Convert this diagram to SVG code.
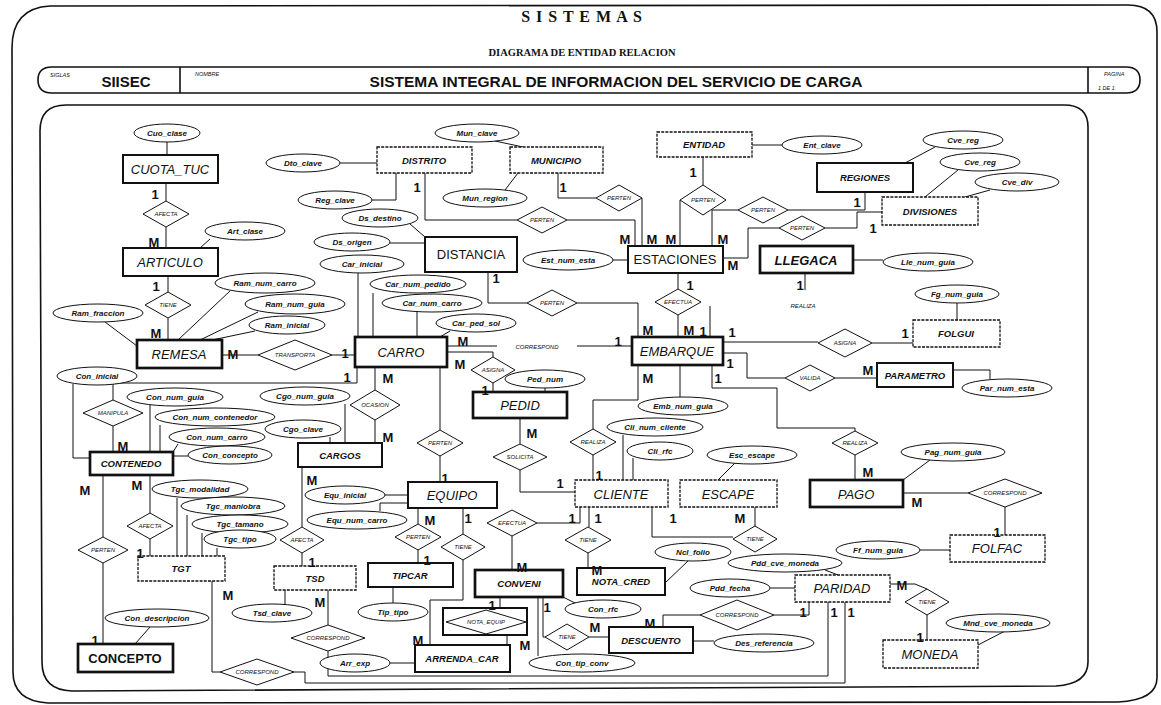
<svg xmlns="http://www.w3.org/2000/svg" width="1161" height="705" viewBox="0 0 1161 705">
<style>
.e{fill:#fff;stroke:#111;stroke-width:2}
.eb{fill:#fff;stroke:#111;stroke-width:2.7}
.et{fill:#fff;stroke:#111;stroke-width:1.3;stroke-dasharray:3 1.2}
.r{fill:#fff;stroke:#111;stroke-width:1}
.a{fill:#fff;stroke:#111;stroke-width:1}
.fr{fill:none;stroke:#111;stroke-width:1.6}
#connectors path{fill:none;stroke:#111;stroke-width:1}
text{font-family:"Liberation Sans",Arial,sans-serif;fill:#111}
.n{font-size:13px;font-style:italic;text-anchor:middle}
.nr{font-size:13px;text-anchor:middle}
.ns{font-size:9.5px;font-style:italic;font-weight:bold;text-anchor:middle}
.at{font-size:8px;font-style:italic;font-weight:bold;text-anchor:middle}
.rt{font-size:6px;font-style:italic;text-anchor:middle}
.k{font-size:13px;font-weight:bold;text-anchor:middle}
.tiny{font-size:5.5px;font-style:italic}
.hs{font-family:"Liberation Serif","Times New Roman",serif;font-weight:bold;text-anchor:middle}
.hb{font-weight:bold;text-anchor:middle}
</style>
<rect width="1161" height="705" fill="#fff"/>
<g id="frame">
<path class="fr" d="M12,48 Q12,8 50,6 L1128,5 Q1157,5 1157,32 L1157,678 Q1157,700 1118,702 L48,703 Q13,701 13,672 Z"/>
<path class="fr" d="M52,67 H1126 Q1140,67 1140,80 Q1140,93 1126,93 H52 Q38,93 38,80 Q38,67 52,67 Z"/>
<path class="fr" d="M180,67 V93 M1088,67 V93"/>
<path class="fr" d="M40,131 Q40,105 66,105 L1064,105 Q1088,105 1088,127 L1088,662 Q1088,684 1056,686 L72,691 Q42,690 42,662 Z"/>
<text class="hs" x="582" y="22" font-size="16" letter-spacing="1">S I S T E M A S</text>
<text class="hs" x="582" y="56" font-size="10.5">DIAGRAMA DE ENTIDAD RELACION</text>
<text class="tiny" x="50" y="77">SIGLAS</text>
<text class="hb" x="126" y="87" font-size="15">SIISEC</text>
<text class="tiny" x="195" y="76">NOMBRE</text>
<text class="hb" x="616" y="87" font-size="15.5">SISTEMA INTEGRAL DE INFORMACION DEL SERVICIO DE CARGA</text>
<text class="tiny" x="1104" y="76">PAGINA</text>
<text class="tiny" x="1098" y="90">1     DE     1</text>
</g>
<g id="connectors">
<path d="M167,142 V155 M166,183 V201 M166,227 V248 M210,239 L200,248"/>
<path d="M168,276 V292 M168,318 V340 M105,322 L137,346 M230,291 L178,340 M258,312 L200,340 M255,331 L212,340"/>
<path d="M222,355 H258 M332,355 H355"/>
<path d="M340,163 H377 M372,200 H396 V173"/>
<path d="M425,173 V220 H517 M567,220 H635 V246"/>
<path d="M558,173 V198 H596 M642,198 V246 M495,141 L523,147 M505,190 L518,173"/>
<path d="M703,157 V185 M680,200 V246 M752,145 H782"/>
<path d="M738,210 H712 V246 M788,210 H865 V192 M905,163 L935,147 M925,197 L958,170 M965,197 L990,190"/>
<path d="M779,228 H748 V258 H723 M825,228 H857 V212 H882"/>
<path d="M613,260 H628 M410,224 L425,237 M390,243 H425"/>
<path d="M358,273 V337 M373,293 V337 M417,312 V337 M450,331 L440,337"/>
<path d="M488,272 V303 H527 M577,303 H638 V337"/>
<path d="M678,273 V289 M678,315 V337 M805,273 V290 M710,306 V337 M853,260 H883"/>
<path d="M723,342 H818 M872,343 H913 M957,303 V320"/>
<path d="M723,353 H747 V378 H785 M835,378 H877 M953,370 H990 V379"/>
<path d="M712,365 V388 H777 V428 H855 V431 M855,455 V480 M903,480 L930,460"/>
<path d="M903,493 H968 M1005,507 V535 M920,550 H950"/>
<path d="M447,346 H497 M577,346 H632 M447,352 H493 V357 M493,383 V392 M545,388 V392"/>
<path d="M520,418 V444 M520,470 V492 H575"/>
<path d="M638,365 V400 H593 V429 M593,455 V480 M680,365 V397 M623,435 V480 M633,458 V480 M735,463 L718,480"/>
<path d="M357,367 V383 H113 V400 M113,426 V452 M73,384 V458 H90"/>
<path d="M150,405 V452 M160,425 V452 M178,444 L173,452 M188,456 H173"/>
<path d="M375,367 V390 M375,420 V443 M345,404 V443 M330,437 V443"/>
<path d="M302,467 V527 M302,553 V566 M150,475 V513 M150,539 V556 M103,475 V537 M103,563 V644 M150,627 L135,644"/>
<path d="M177,498 V556 M187,515 V556 M202,533 V556 M217,548 V556"/>
<path d="M440,367 V430 M440,456 V482 M385,495 H408 M380,511 V503 H408"/>
<path d="M418,508 V524 M418,550 V563 M393,587 V603"/>
<path d="M463,508 V534 M463,560 V600 H430 V645"/>
<path d="M285,590 V604 M328,590 V625 M328,651 V676 H828 V602"/>
<path d="M212,581 V672 H220 M294,672 H305 V683 H845 V602 M390,663 H415"/>
<path d="M580,507 V523 H537 M512,536 V570 M589,507 V527 M588,553 V568 M652,507 V537 H733 M755,507 V526"/>
<path d="M665,583 L688,561 M500,597 V608 M507,635 V645 M563,597 L577,604 M538,597 V656"/>
<path d="M543,597 V637 H545 M589,637 H609 M693,641 H714"/>
<path d="M663,627 V615 H700 M774,615 H809 V602 M825,570 L838,575 M770,588 H795"/>
<path d="M890,584 H915 L927,589 M927,615 V640 M978,645 L1005,631"/>
</g>
<g id="CUOTA_TUC"><rect class="e" x="123" y="155" width="95" height="28"/><text class="n" x="170" y="174">CUOTA_TUC</text></g>
<g id="ARTICULO"><rect class="e" x="123" y="248" width="95" height="28"/><text class="n" x="170" y="267">ARTICULO</text></g>
<g id="REMESA"><rect class="eb" x="137" y="340" width="85" height="28"/><text class="n" x="179" y="359">REMESA</text></g>
<g id="CARRO"><rect class="eb" x="355" y="337" width="92" height="30"/><text class="n" x="401" y="357">CARRO</text></g>
<g id="DISTRITO"><rect class="et" x="377" y="147" width="95" height="26"/><text class="ns" x="424" y="164">DISTRITO</text></g>
<g id="MUNICIPIO"><rect class="et" x="510" y="147" width="93" height="26"/><text class="ns" x="556" y="164">MUNICIPIO</text></g>
<g id="DISTANCIA"><rect class="e" x="425" y="237" width="92" height="35"/><text class="nr" x="471" y="259">DISTANCIA</text></g>
<g id="ENTIDAD"><rect class="et" x="657" y="132" width="95" height="25"/><text class="ns" x="704" y="148">ENTIDAD</text></g>
<g id="REGIONES"><rect class="e" x="817" y="163" width="96" height="29"/><text class="ns" x="865" y="181">REGIONES</text></g>
<g id="DIVISIONES"><rect class="et" x="882" y="197" width="96" height="28"/><text class="ns" x="930" y="215">DIVISIONES</text></g>
<g id="ESTACIONES"><rect class="e" x="628" y="246" width="95" height="27"/><text class="nr" x="675" y="264">ESTACIONES</text></g>
<g id="LLEGACA"><rect class="eb" x="760" y="246" width="93" height="27"/><text class="n" x="806" y="265" font-weight="bold">LLEGACA</text></g>
<g id="EMBARQUE"><rect class="eb" x="632" y="337" width="91" height="28"/><text class="n" x="677" y="356">EMBARQUE</text></g>
<g id="FOLGUI"><rect class="et" x="913" y="320" width="87" height="27"/><text class="ns" x="956" y="337">FOLGUI</text></g>
<g id="PARAMETRO"><rect class="e" x="877" y="363" width="76" height="24"/><text class="ns" x="915" y="379">PARAMETRO</text></g>
<g id="PEDID"><rect class="eb" x="473" y="392" width="94" height="26"/><text class="n" x="520" y="410">PEDID</text></g>
<g id="CLIENTE"><rect class="et" x="575" y="480" width="93" height="27"/><text class="n" x="621" y="499">CLIENTE</text></g>
<g id="ESCAPE"><rect class="et" x="680" y="480" width="97" height="27"/><text class="n" x="728" y="499">ESCAPE</text></g>
<g id="PAGO"><rect class="eb" x="810" y="480" width="93" height="27"/><text class="n" x="856" y="499">PAGO</text></g>
<g id="FOLFAC"><rect class="et" x="950" y="535" width="95" height="27"/><text class="n" x="997" y="553" font-size="12">FOLFAC</text></g>
<g id="CONTENEDO"><rect class="eb" x="90" y="452" width="83" height="23"/><text class="ns" x="131" y="467">CONTENEDO</text></g>
<g id="CARGOS"><rect class="e" x="298" y="443" width="84" height="24"/><text class="ns" x="340" y="459" font-style="normal">CARGOS</text></g>
<g id="EQUIPO"><rect class="e" x="408" y="482" width="89" height="26"/><text class="n" x="452" y="500">EQUIPO</text></g>
<g id="TGT"><rect class="et" x="138" y="556" width="87" height="25"/><text class="ns" x="181" y="572">TGT</text></g>
<g id="TSD"><rect class="et" x="274" y="566" width="82" height="24"/><text class="ns" x="315" y="582">TSD</text></g>
<g id="TIPCAR"><rect class="e" x="368" y="563" width="85" height="24"/><text class="ns" x="410" y="579">TIPCAR</text></g>
<g id="CONVENI"><rect class="eb" x="475" y="570" width="88" height="27"/><text class="ns" x="519" y="587">CONVENI</text></g>
<g id="NOTA_CRED"><rect class="e" x="577" y="568" width="88" height="27"/><text class="ns" x="621" y="585">NOTA_CRED</text></g>
<g id="DESCUENTO"><rect class="e" x="609" y="627" width="84" height="26"/><text class="ns" x="651" y="644">DESCUENTO</text></g>
<g id="PARIDAD"><rect class="et" x="795" y="575" width="95" height="27"/><text class="n" x="842" y="593" font-size="12">PARIDAD</text></g>
<g id="MONEDA"><rect class="et" x="883" y="640" width="95" height="28"/><text class="n" x="930" y="659" font-size="12">MONEDA</text></g>
<g id="ARRENDA_CAR"><rect class="e" x="415" y="645" width="95" height="27"/><text class="ns" x="462" y="662">ARRENDA_CAR</text></g>
<g id="CONCEPTO"><rect class="eb" x="78" y="644" width="95" height="28"/><text class="nr" x="125" y="663" font-weight="bold">CONCEPTO</text></g>
<g id="NOTA_EQUIP"><rect class="e" x="443" y="608" width="84" height="27" stroke-width="1.5"/><polygon class="r" points="446,622 486,610 526,622 486,634"/><text class="rt" x="486" y="624" font-size="7">NOTA_EQUIP</text></g>
<g id="r_afecta1"><polygon class="r" points="143,214 166,201 189,214 166,227"/><text class="rt" x="166" y="216">AFECTA</text></g>
<g id="r_tiene1"><polygon class="r" points="145,305 168,292 191,305 168,318"/><text class="rt" x="168" y="307">TIENE</text></g>
<g id="r_transporta"><polygon class="r" points="258,355 295,340 332,355 295,370"/><text class="rt" x="295" y="357">TRANSPORTA</text></g>
<g id="r_perten1"><polygon class="r" points="517,220 542,207 567,220 542,233"/><text class="rt" x="542" y="222">PERTEN</text></g>
<g id="r_perten2"><polygon class="r" points="596,198 619,185 642,198 619,211"/><text class="rt" x="619" y="200">PERTEN</text></g>
<g id="r_perten3"><polygon class="r" points="680,200 703,185 726,200 703,215"/><text class="rt" x="703" y="202">PERTEN</text></g>
<g id="r_perten4"><polygon class="r" points="738,210 763,197 788,210 763,223"/><text class="rt" x="763" y="212">PERTEN</text></g>
<g id="r_perten5"><polygon class="r" points="779,228 802,216 825,228 802,240"/><text class="rt" x="802" y="230">PERTEN</text></g>
<g id="r_perten6"><polygon class="r" points="527,303 552,290 577,303 552,316"/><text class="rt" x="552" y="305">PERTEN</text></g>
<g id="r_efectua1"><polygon class="r" points="655,302 678,289 701,302 678,315"/><text class="rt" x="678" y="304">EFECTUA</text></g>
<g id="r_asigna1"><polygon class="r" points="818,343 845,329 872,343 845,357"/><text class="rt" x="845" y="345">ASIGNA</text></g>
<g id="r_valida"><polygon class="r" points="785,378 810,365 835,378 810,391"/><text class="rt" x="810" y="380">VALIDA</text></g>
<g id="r_realiza1"><polygon class="r" points="832,443 855,431 878,443 855,455"/><text class="rt" x="855" y="445">REALIZA</text></g>
<g id="r_corresp1"><polygon class="r" points="968,493 1005,479 1042,493 1005,507"/><text class="rt" x="1005" y="495">CORRESPOND</text></g>
<g id="r_manipula"><polygon class="r" points="83,413 113,400 143,413 113,426"/><text class="rt" x="113" y="415" font-size="5">MANIPULA</text></g>
<g id="r_ocasion"><polygon class="r" points="350,405 375,390 400,405 375,420"/><text class="rt" x="375" y="407">OCASION</text></g>
<g id="r_asigna2"><polygon class="r" points="471,370 493,357 515,370 493,383"/><text class="rt" x="493" y="372">ASIGNA</text></g>
<g id="r_perten7"><polygon class="r" points="417,443 440,430 463,443 440,456"/><text class="rt" x="440" y="445">PERTEN</text></g>
<g id="r_solicita"><polygon class="r" points="493,457 520,444 547,457 520,470"/><text class="rt" x="520" y="459">SOLICITA</text></g>
<g id="r_realiza2"><polygon class="r" points="570,442 593,429 616,442 593,455"/><text class="rt" x="593" y="444">REALIZA</text></g>
<g id="r_afecta2"><polygon class="r" points="127,526 150,513 173,526 150,539"/><text class="rt" x="150" y="528">AFECTA</text></g>
<g id="r_perten8"><polygon class="r" points="78,550 103,537 128,550 103,563"/><text class="rt" x="103" y="552">PERTEN</text></g>
<g id="r_afecta3"><polygon class="r" points="280,540 302,527 324,540 302,553"/><text class="rt" x="302" y="542">AFECTA</text></g>
<g id="r_perten9"><polygon class="r" points="395,537 418,524 441,537 418,550"/><text class="rt" x="418" y="539">PERTEN</text></g>
<g id="r_tiene2"><polygon class="r" points="441,547 463,534 485,547 463,560"/><text class="rt" x="463" y="549">TIENE</text></g>
<g id="r_efectua2"><polygon class="r" points="487,523 512,510 537,523 512,536"/><text class="rt" x="512" y="525">EFECTUA</text></g>
<g id="r_tiene3"><polygon class="r" points="565,540 588,527 611,540 588,553"/><text class="rt" x="588" y="542">TIENE</text></g>
<g id="r_tiene4"><polygon class="r" points="733,539 755,526 777,539 755,552"/><text class="rt" x="755" y="541">TIENE</text></g>
<g id="r_tiene5"><polygon class="r" points="545,637 567,624 589,637 567,650"/><text class="rt" x="567" y="639">TIENE</text></g>
<g id="r_corresp2"><polygon class="r" points="700,615 737,600 774,615 737,630"/><text class="rt" x="737" y="617">CORRESPOND</text></g>
<g id="r_tiene6"><polygon class="r" points="905,602 927,589 949,602 927,615"/><text class="rt" x="927" y="604">TIENE</text></g>
<g id="r_corresp3"><polygon class="r" points="220,672 257,659 294,672 257,685"/><text class="rt" x="257" y="674">CORRESPOND</text></g>
<g id="r_corresp4"><polygon class="r" points="291,638 328,625 365,638 328,651"/><text class="rt" x="328" y="640">CORRESPOND</text></g>
<g id="r_corresp5"><text class="rt" x="537" y="349">CORRESPOND</text></g>
<g id="r_realiza3"><text class="rt" x="803" y="308">REALIZA</text></g>
<g id="attributes">
<g id="a_cuo_clase"><ellipse class="a" cx="167" cy="133" rx="33" ry="9"/><text class="at" x="167" y="136">Cuo_clase</text></g>
<g id="a_art_clase"><ellipse class="a" cx="245" cy="231" rx="40" ry="9"/><text class="at" x="245" y="234">Art_clase</text></g>
<g id="a_ram_num_carro"><ellipse class="a" cx="265" cy="283" rx="50" ry="10"/><text class="at" x="265" y="286">Ram_num_carro</text></g>
<g id="a_ram_num_guia"><ellipse class="a" cx="295" cy="304" rx="50" ry="10"/><text class="at" x="295" y="307">Ram_num_guia</text></g>
<g id="a_ram_inicial"><ellipse class="a" cx="287" cy="325" rx="38" ry="9"/><text class="at" x="287" y="328">Ram_inicial</text></g>
<g id="a_ram_fraccion"><ellipse class="a" cx="98" cy="313" rx="45" ry="9"/><text class="at" x="98" y="316">Ram_fraccion</text></g>
<g id="a_dto_clave"><ellipse class="a" cx="303" cy="163" rx="37" ry="9"/><text class="at" x="303" y="166">Dto_clave</text></g>
<g id="a_reg_clave"><ellipse class="a" cx="335" cy="200" rx="37" ry="9"/><text class="at" x="335" y="203">Reg_clave</text></g>
<g id="a_ds_destino"><ellipse class="a" cx="380" cy="218" rx="38" ry="9"/><text class="at" x="380" y="221">Ds_destino</text></g>
<g id="a_ds_origen"><ellipse class="a" cx="352" cy="242" rx="38" ry="9"/><text class="at" x="352" y="245">Ds_origen</text></g>
<g id="a_car_inicial"><ellipse class="a" cx="362" cy="264" rx="42" ry="9"/><text class="at" x="362" y="267">Car_inicial</text></g>
<g id="a_car_num_pedido"><ellipse class="a" cx="418" cy="284" rx="48" ry="9"/><text class="at" x="418" y="287">Car_num_pedido</text></g>
<g id="a_car_num_carro"><ellipse class="a" cx="432" cy="303" rx="50" ry="9"/><text class="at" x="432" y="306">Car_num_carro</text></g>
<g id="a_car_ped_sol"><ellipse class="a" cx="476" cy="323" rx="40" ry="9"/><text class="at" x="476" y="326">Car_ped_sol</text></g>
<g id="a_mun_clave"><ellipse class="a" cx="477" cy="133" rx="42" ry="9"/><text class="at" x="477" y="136">Mun_clave</text></g>
<g id="a_mun_region"><ellipse class="a" cx="485" cy="198" rx="42" ry="9"/><text class="at" x="485" y="201">Mun_region</text></g>
<g id="a_ent_clave"><ellipse class="a" cx="822" cy="145" rx="40" ry="9"/><text class="at" x="822" y="148">Ent_clave</text></g>
<g id="a_cve_reg1"><ellipse class="a" cx="963" cy="140" rx="40" ry="9"/><text class="at" x="963" y="143">Cve_reg</text></g>
<g id="a_cve_reg2"><ellipse class="a" cx="980" cy="162" rx="40" ry="9"/><text class="at" x="980" y="165">Cve_reg</text></g>
<g id="a_cve_div"><ellipse class="a" cx="1017" cy="182" rx="42" ry="9"/><text class="at" x="1017" y="185">Cve_div</text></g>
<g id="a_est_num_esta"><ellipse class="a" cx="568" cy="260" rx="45" ry="10"/><text class="at" x="568" y="263">Est_num_esta</text></g>
<g id="a_lle_num_guia"><ellipse class="a" cx="928" cy="262" rx="45" ry="9"/><text class="at" x="928" y="265">Lle_num_guia</text></g>
<g id="a_fg_num_guia"><ellipse class="a" cx="957" cy="294" rx="42" ry="9"/><text class="at" x="957" y="297">Fg_num_guia</text></g>
<g id="a_par_num_esta"><ellipse class="a" cx="1007" cy="388" rx="45" ry="9"/><text class="at" x="1007" y="391">Par_num_esta</text></g>
<g id="a_ped_num"><ellipse class="a" cx="545" cy="379" rx="40" ry="9"/><text class="at" x="545" y="382">Ped_num</text></g>
<g id="a_emb_num_guia"><ellipse class="a" cx="683" cy="406" rx="45" ry="9"/><text class="at" x="683" y="409">Emb_num_guia</text></g>
<g id="a_cli_num_cliente"><ellipse class="a" cx="655" cy="427" rx="48" ry="9"/><text class="at" x="655" y="430">Cli_num_cliente</text></g>
<g id="a_cli_rfc"><ellipse class="a" cx="660" cy="451" rx="33" ry="9"/><text class="at" x="660" y="454">Cli_rfc</text></g>
<g id="a_esc_escape"><ellipse class="a" cx="752" cy="455" rx="45" ry="9"/><text class="at" x="752" y="458">Esc_escape</text></g>
<g id="a_pag_num_guia"><ellipse class="a" cx="953" cy="452" rx="52" ry="9"/><text class="at" x="953" y="455">Pag_num_guia</text></g>
<g id="a_ff_num_guia"><ellipse class="a" cx="878" cy="550" rx="42" ry="9"/><text class="at" x="878" y="553">Ff_num_guia</text></g>
<g id="a_con_inicial"><ellipse class="a" cx="97" cy="376" rx="40" ry="9"/><text class="at" x="97" y="379">Con_inicial</text></g>
<g id="a_con_num_guia"><ellipse class="a" cx="175" cy="397" rx="48" ry="9"/><text class="at" x="175" y="400">Con_num_guia</text></g>
<g id="a_con_num_contenedor"><ellipse class="a" cx="215" cy="417" rx="60" ry="9"/><text class="at" x="215" y="420">Con_num_contenedor</text></g>
<g id="a_con_num_carro"><ellipse class="a" cx="217" cy="437" rx="48" ry="9"/><text class="at" x="217" y="440">Con_num_carro</text></g>
<g id="a_con_concepto"><ellipse class="a" cx="230" cy="455" rx="42" ry="9"/><text class="at" x="230" y="458">Con_concepto</text></g>
<g id="a_cgo_num_guia"><ellipse class="a" cx="305" cy="396" rx="45" ry="9"/><text class="at" x="305" y="399">Cgo_num_guia</text></g>
<g id="a_cgo_clave"><ellipse class="a" cx="303" cy="429" rx="38" ry="9"/><text class="at" x="303" y="432">Cgo_clave</text></g>
<g id="a_tgc_modalidad"><ellipse class="a" cx="200" cy="489" rx="48" ry="9"/><text class="at" x="200" y="492">Tgc_modalidad</text></g>
<g id="a_tgc_maniobra"><ellipse class="a" cx="233" cy="506" rx="52" ry="9"/><text class="at" x="233" y="509">Tgc_maniobra</text></g>
<g id="a_tgc_tamano"><ellipse class="a" cx="240" cy="524" rx="48" ry="9"/><text class="at" x="240" y="527">Tgc_tamano</text></g>
<g id="a_tgc_tipo"><ellipse class="a" cx="240" cy="539" rx="36" ry="9"/><text class="at" x="240" y="542">Tgc_tipo</text></g>
<g id="a_equ_inicial"><ellipse class="a" cx="345" cy="495" rx="40" ry="9"/><text class="at" x="345" y="498">Equ_inicial</text></g>
<g id="a_equ_num_carro"><ellipse class="a" cx="357" cy="520" rx="50" ry="9"/><text class="at" x="357" y="523">Equ_num_carro</text></g>
<g id="a_tsd_clave"><ellipse class="a" cx="272" cy="613" rx="40" ry="9"/><text class="at" x="272" y="616">Tsd_clave</text></g>
<g id="a_tip_tipo"><ellipse class="a" cx="393" cy="612" rx="35" ry="9"/><text class="at" x="393" y="615">Tip_tipo</text></g>
<g id="a_arr_exp"><ellipse class="a" cx="355" cy="663" rx="35" ry="9"/><text class="at" x="355" y="666">Arr_exp</text></g>
<g id="a_con_descripcion"><ellipse class="a" cx="157" cy="618" rx="52" ry="9"/><text class="at" x="157" y="621">Con_descripcion</text></g>
<g id="a_ncl_folio"><ellipse class="a" cx="693" cy="552" rx="38" ry="9"/><text class="at" x="693" y="555">Ncl_folio</text></g>
<g id="a_con_rfc"><ellipse class="a" cx="603" cy="609" rx="38" ry="9"/><text class="at" x="603" y="612">Con_rfc</text></g>
<g id="a_con_tip_conv"><ellipse class="a" cx="582" cy="663" rx="53" ry="9"/><text class="at" x="582" y="666">Con_tip_conv</text></g>
<g id="a_des_referencia"><ellipse class="a" cx="764" cy="643" rx="50" ry="9"/><text class="at" x="764" y="646">Des_referencia</text></g>
<g id="a_pdd_cve_moneda"><ellipse class="a" cx="785" cy="563" rx="57" ry="9"/><text class="at" x="785" y="566">Pdd_cve_moneda</text></g>
<g id="a_pdd_fecha"><ellipse class="a" cx="730" cy="588" rx="40" ry="9"/><text class="at" x="730" y="591">Pdd_fecha</text></g>
<g id="a_mnd_cve_moneda"><ellipse class="a" cx="998" cy="623" rx="52" ry="9"/><text class="at" x="998" y="626">Mnd_cve_moneda</text></g>
</g>
<g id="cardinalities">
<text class="k" x="155" y="199">1</text><text class="k" x="154" y="247">M</text><text class="k" x="156" y="291">1</text><text class="k" x="156" y="338">M</text>
<text class="k" x="233" y="359">M</text><text class="k" x="345" y="358">1</text>
<text class="k" x="417" y="192">1</text><text class="k" x="563" y="192">1</text><text class="k" x="693" y="177">1</text>
<text class="k" x="625" y="244">M</text><text class="k" x="652" y="244">M</text><text class="k" x="671" y="244">M</text><text class="k" x="723" y="244">M</text><text class="k" x="733" y="270">M</text>
<text class="k" x="857" y="207">1</text><text class="k" x="873" y="233">1</text>
<text class="k" x="690" y="290">1</text><text class="k" x="496" y="283">1</text><text class="k" x="800" y="290">1</text>
<text class="k" x="648" y="335">M</text><text class="k" x="689" y="335">M</text><text class="k" x="703" y="336">1</text>
<text class="k" x="732" y="337">1</text><text class="k" x="905" y="338">1</text><text class="k" x="730" y="368">1</text><text class="k" x="868" y="375">M</text>
<text class="k" x="718" y="383">1</text><text class="k" x="868" y="477">M</text><text class="k" x="917" y="507">M</text><text class="k" x="997" y="537">1</text>
<text class="k" x="463" y="346">M</text><text class="k" x="618" y="346">1</text><text class="k" x="460" y="369">M</text><text class="k" x="485" y="395">1</text>
<text class="k" x="532" y="438">M</text><text class="k" x="560" y="488">1</text><text class="k" x="648" y="383">M</text><text class="k" x="599" y="480">1</text>
<text class="k" x="347" y="382">1</text><text class="k" x="388" y="383">M</text><text class="k" x="123" y="451">M</text><text class="k" x="388" y="442">M</text>
<text class="k" x="85" y="495">M</text><text class="k" x="137" y="490">M</text><text class="k" x="312" y="485">M</text>
<text class="k" x="140" y="558">1</text><text class="k" x="95" y="645">1</text><text class="k" x="312" y="567">1</text>
<text class="k" x="228" y="600">M</text><text class="k" x="320" y="607">M</text>
<text class="k" x="445" y="483">1</text><text class="k" x="430" y="525">M</text><text class="k" x="468" y="523">1</text><text class="k" x="427" y="565">1</text>
<text class="k" x="572" y="523">1</text><text class="k" x="598" y="523">1</text><text class="k" x="673" y="523">1</text><text class="k" x="740" y="523">M</text>
<text class="k" x="522" y="572">M</text><text class="k" x="597" y="575">M</text><text class="k" x="492" y="610">1</text><text class="k" x="525" y="650">M</text>
<text class="k" x="418" y="645">M</text><text class="k" x="547" y="612">1</text><text class="k" x="595" y="632">M</text><text class="k" x="650" y="628">M</text>
<text class="k" x="803" y="617">1</text><text class="k" x="834" y="617">1</text><text class="k" x="851" y="617">1</text>
<text class="k" x="902" y="590">M</text><text class="k" x="920" y="642">1</text>
</g>
</svg>
